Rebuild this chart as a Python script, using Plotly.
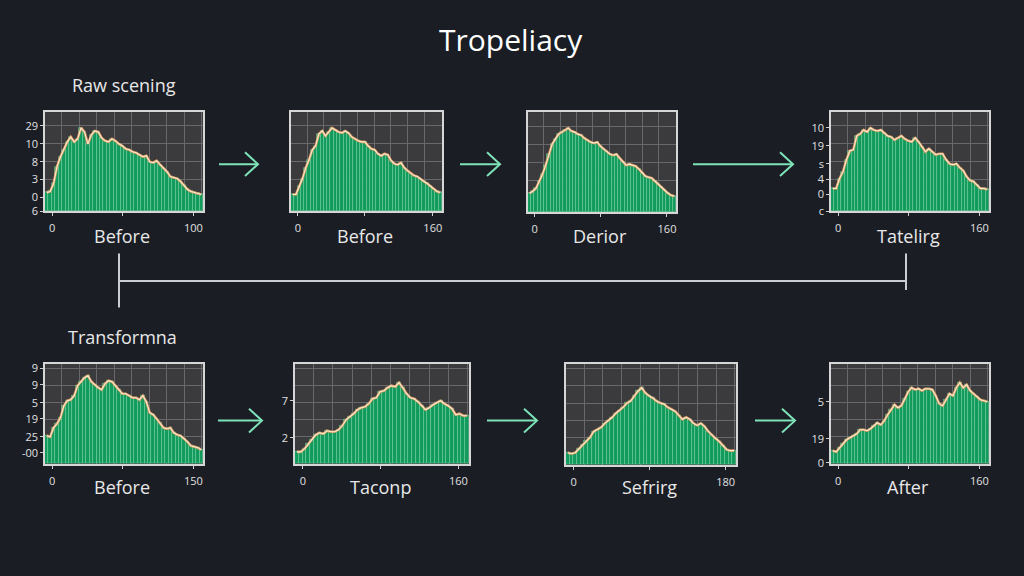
import plotly.graph_objects as go

W, H = 1024, 576

title_text = "Tropeliacy"
section_labels = ["Raw scening", "Transformna"]
panel_labels = ["Before", "Before", "Derior", "Tatelirg", "Before", "Taconp", "Sefrirg", "After"]
x_right_labels = ["100", "160", "160", "160", "150", "160", "180", "160"]

p1 = [19, 20, 28, 45, 55, 62, 70, 75, 70, 73, 84, 80, 68, 77, 81, 80, 74, 71, 70, 73, 71, 68, 66, 63,
      62, 60, 59, 57, 55, 56, 50, 49, 51, 47, 44, 40, 35, 34, 33, 30, 26, 22, 20, 19, 18, 17]
p2 = [17, 17, 25, 33, 44, 52, 62, 66, 78, 81, 76, 80, 84, 82, 80, 79, 81, 79, 75, 73, 71, 70, 70, 66,
      63, 62, 58, 56, 58, 57, 51, 48, 47, 49, 44, 41, 38, 36, 35, 32, 30, 28, 25, 22, 20, 19]
p3 = [19, 21, 24, 31, 38, 47, 58, 68, 73, 78, 80, 82, 84, 81, 80, 78, 77, 74, 72, 70, 69, 70, 66, 63,
      61, 58, 57, 58, 54, 50, 47, 48, 47, 46, 43, 39, 36, 35, 34, 31, 28, 25, 22, 19, 17, 16]
p4 = [23, 23, 33, 40, 52, 61, 62, 76, 78, 82, 80, 84, 82, 81, 82, 79, 76, 75, 72, 74, 76, 73, 71, 70,
      74, 70, 65, 60, 63, 60, 57, 58, 58, 52, 48, 47, 48, 44, 41, 35, 31, 30, 26, 23, 23, 22]
p5 = [28, 27, 36, 40, 46, 58, 63, 64, 68, 78, 82, 86, 88, 82, 79, 76, 74, 80, 83, 82, 78, 74, 70, 70,
      68, 66, 66, 64, 68, 62, 51, 49, 45, 41, 36, 35, 36, 31, 29, 28, 25, 22, 18, 17, 16, 14]
p6 = [12, 12, 15, 20, 24, 29, 31, 30, 33, 32, 32, 34, 38, 44, 47, 50, 54, 56, 57, 60, 65, 66, 72, 73,
      76, 78, 77, 81, 76, 70, 66, 65, 62, 58, 54, 56, 59, 61, 63, 60, 58, 55, 49, 50, 48, 48]
p7 = [12, 11, 12, 16, 20, 24, 27, 33, 35, 37, 41, 44, 47, 51, 54, 57, 61, 63, 68, 73, 76, 71, 68, 66,
      63, 61, 60, 57, 55, 53, 49, 45, 47, 45, 41, 39, 41, 38, 33, 29, 26, 23, 19, 15, 14, 14]
p8 = [13, 12, 16, 20, 24, 26, 28, 30, 34, 34, 33, 35, 38, 41, 39, 43, 49, 54, 59, 56, 58, 65, 72, 76,
      74, 75, 73, 75, 75, 74, 68, 60, 58, 64, 70, 68, 76, 81, 76, 79, 73, 70, 67, 64, 63, 62]
series = [p1, p2, p3, p4, p5, p6, p7, p8]

ytick_vals = [[86, 68, 50, 32, 14, 0], [], [], [84, 66, 48, 32, 17, 0],
              [95, 79, 61, 45, 27, 11], [63, 26], [], [62, 25, 1]]
ytick_text = [["29", "10", "8", "3", "0", "6"], [], [], ["10", "19", "s", "4", "0", "c"],
              ["9", "9", "5", "19", "25", "-00"], ["7", "2"], [], ["5", "19", "0"]]

# panel boxes in pixels: left, right, top, bottom
boxes = [(45, 203, 111, 212), (291, 442, 111, 212), (528, 676, 111, 213), (831, 989, 111, 212),
         (45, 203, 367, 469), (295, 469, 367, 469), (566, 736, 367, 470), (831, 989, 367, 469)]

BG = "#1a1d24"
PLOT_BG = "#3b3b3d"
GRID = "#68686c"
BAR = "#12995c"
BAR_EDGE = "rgba(140,235,185,0.6)"
TXT = "#e8e8e8"
ARROW = "#7ee3b8"
CONN = "#c9cdd2"


def px(x):
    return x / W


def py(y):
    return 1 - y / H


fig = go.Figure()
layout = dict(width=W, height=H, margin=dict(l=0, r=0, t=0, b=0),
              paper_bgcolor=BG, plot_bgcolor=PLOT_BG, showlegend=False,
              bargap=0, font=dict(family="Open Sans", color=TXT))

annotations = []
shapes = []
n = len(p1)
for i, (vals, box) in enumerate(zip(series, boxes)):
    k = "" if i == 0 else str(i + 1)
    xs = list(range(len(vals)))
    fig.add_trace(go.Bar(x=xs, y=vals, marker=dict(color=BAR, line=dict(color=BAR_EDGE, width=0.8)),
                         xaxis="x" + k, yaxis="y" + k, hoverinfo="skip"))
    fig.add_trace(go.Scatter(x=xs, y=vals, mode="lines", line=dict(color="rgba(235,150,95,0.85)", width=2.6),
                             xaxis="x" + k, yaxis="y" + k, hoverinfo="skip"))
    fig.add_trace(go.Scatter(x=xs, y=vals, mode="lines", line=dict(color="#fcefd2", width=1.1),
                             xaxis="x" + k, yaxis="y" + k, hoverinfo="skip"))
    l, r, t, b = box
    row2 = i >= 4
    layout["xaxis" + k] = dict(
        domain=[px(l), px(r)], anchor="y" + k, range=[-0.5, n - 0.5],
        tickmode="array", tickvals=[1.6, 22.0, 42.7], ticktext=["0", "", x_right_labels[i]],
        ticks="outside", ticklen=3, tickcolor="#cfcfcf", tickfont=dict(size=11, color="#e0e0e0"),
        showgrid=False, zeroline=False, showline=True, linecolor="#d6d6d6", linewidth=1.5, mirror=True,
        ticklabelstandoff=3,
        minor=dict(tickmode="array", tickvals=[4.4 + 5.1 * j for j in range(9)], showgrid=True,
                   gridcolor=GRID, gridwidth=1, ticks=""),
        fixedrange=True)
    hgrid = [10 + 17 * j for j in range(6)] if row2 else [14 + 18 * j for j in range(5)]
    layout["yaxis" + k] = dict(
        domain=[py(b), py(t)], anchor="x" + k, range=[0, 100],
        tickmode="array", tickvals=ytick_vals[i], ticktext=ytick_text[i],
        ticks="outside" if ytick_vals[i] else "", ticklen=3, tickcolor="#cfcfcf",
        tickfont=dict(size=11, color="#e0e0e0"),
        showgrid=False, zeroline=False, showline=True, linecolor="#d6d6d6", linewidth=1.5, mirror=True,
        minor=dict(tickmode="array", tickvals=hgrid, showgrid=True, gridcolor=GRID, gridwidth=1, ticks=""),
        fixedrange=True)
    label_y = 493 if row2 else 237
    annotations.append(dict(text=panel_labels[i], x=px((l + r) / 2 - 2), y=py(label_y), xref="paper",
                            yref="paper", showarrow=False, xanchor="center", yanchor="middle",
                            font=dict(size=18, color=TXT)))

annotations.append(dict(text=title_text, x=px(511), y=py(37), xref="paper", yref="paper", showarrow=False,
                        xanchor="center", yanchor="middle", font=dict(size=30, color="#ffffff")))
annotations.append(dict(text=section_labels[0], x=px(124), y=py(83), xref="paper", yref="paper",
                        showarrow=False, xanchor="center", yanchor="middle", font=dict(size=18, color=TXT)))
annotations.append(dict(text=section_labels[1], x=px(122), y=py(340), xref="paper", yref="paper",
                        showarrow=False, xanchor="center", yanchor="middle", font=dict(size=18, color=TXT)))

# arrows between panels
arrow_specs = [(219, 258, 164), (460, 500, 164), (693, 793, 164),
               (218, 262, 425), (487, 537, 425), (755, 795, 425)]
for x0, x1, y in arrow_specs:
    shapes.append(dict(type="line", xref="paper", yref="paper", x0=px(x0), x1=px(x1 - 1), y0=py(y), y1=py(y),
                       line=dict(color=ARROW, width=2)))
    path = "M {} {} L {} {} L {} {}".format(px(x1 - 13), py(y - 12), px(x1), py(y), px(x1 - 13), py(y + 12))
    shapes.append(dict(type="path", xref="paper", yref="paper", path=path, line=dict(color=ARROW, width=2)))

# connector bracket
shapes.append(dict(type="line", xref="paper", yref="paper", x0=px(119), x1=px(119), y0=py(255), y1=py(310),
                   line=dict(color=CONN, width=2)))
shapes.append(dict(type="line", xref="paper", yref="paper", x0=px(906), x1=px(906), y0=py(255), y1=py(292),
                   line=dict(color=CONN, width=2)))
shapes.append(dict(type="line", xref="paper", yref="paper", x0=px(119), x1=px(906), y0=py(283), y1=py(283),
                   line=dict(color=CONN, width=2)))

layout["annotations"] = annotations
layout["shapes"] = shapes
fig.update_layout(**layout)
fig.write_html("out.html")
